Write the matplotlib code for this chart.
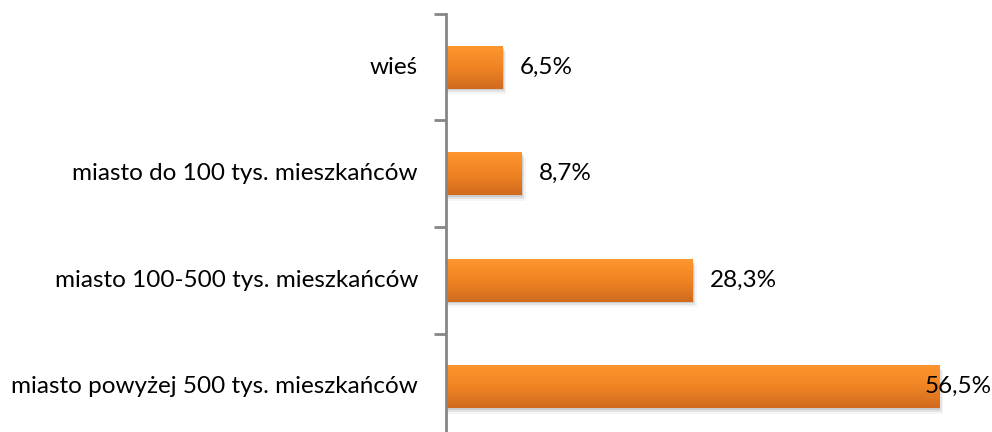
import numpy as np
import matplotlib.pyplot as plt
from matplotlib.colors import LinearSegmentedColormap
from matplotlib.patches import Rectangle

categories = ['miasto powyżej 500 tys. mieszkańców', 'miasto 100-500 tys. mieszkańców',
              'miasto do 100 tys. mieszkańców', 'wieś']
values = [56.5, 28.3, 8.7, 6.5]
labels = ['56,5%', '28,3%', '8,7%', '6,5%']

plt.rcParams['font.family'] = ['Lato', 'DejaVu Sans']

fig = plt.figure(figsize=(9.92, 4.32), dpi=100)
# axes from x=446px to 987px, y=14px to 440px
ax = fig.add_axes([446/992, (432-440)/432, (987-446)/992, 426/432])

xmax = 62
ax.set_xlim(0, xmax)
ax.set_ylim(-0.5, len(values) - 0.5)

grad = LinearSegmentedColormap.from_list('o', ['#d06a1e', '#f08424', '#fd962e'])
g = np.linspace(0, 1, 64).reshape(-1, 1)
h = 0.40
for i, v in enumerate(values):
    # soft shadow
    for k, a in enumerate([0.10, 0.07, 0.04]):
        d = 0.012 * (k + 1)
        ax.add_patch(Rectangle((0, i - h/2 - d*1.5), v + d*12, h, color='#000000',
                               alpha=a, lw=0, zorder=1))
    ax.imshow(g, cmap=grad, aspect='auto', origin='lower',
              extent=(0, v, i - h/2, i + h/2), zorder=2)
    lx = min(v + 1.95, 54.9)
    ax.text(lx, i, labels[i], ha='left', va='center', fontsize=17.5, color='#000000',
            zorder=3)

ax.set_xlim(0, xmax)
ax.set_ylim(-0.5, len(values) - 0.5)
ax.set_yticks(np.arange(-0.5, len(values), 1.0))
ax.set_yticklabels([])
ax.tick_params(axis='y', length=9, width=2, color='#868686')
ax.set_xticks([])
for i, c in enumerate(categories):
    ax.text(-28/8.72, i, c, ha='right', va='center', fontsize=17.5, color='#000000')
for s in ['top', 'right', 'bottom']:
    ax.spines[s].set_visible(False)
ax.spines['left'].set_color('#868686')
ax.spines['left'].set_linewidth(2)
ax.set_zorder(1)

fig.savefig('out.png', dpi=100)
